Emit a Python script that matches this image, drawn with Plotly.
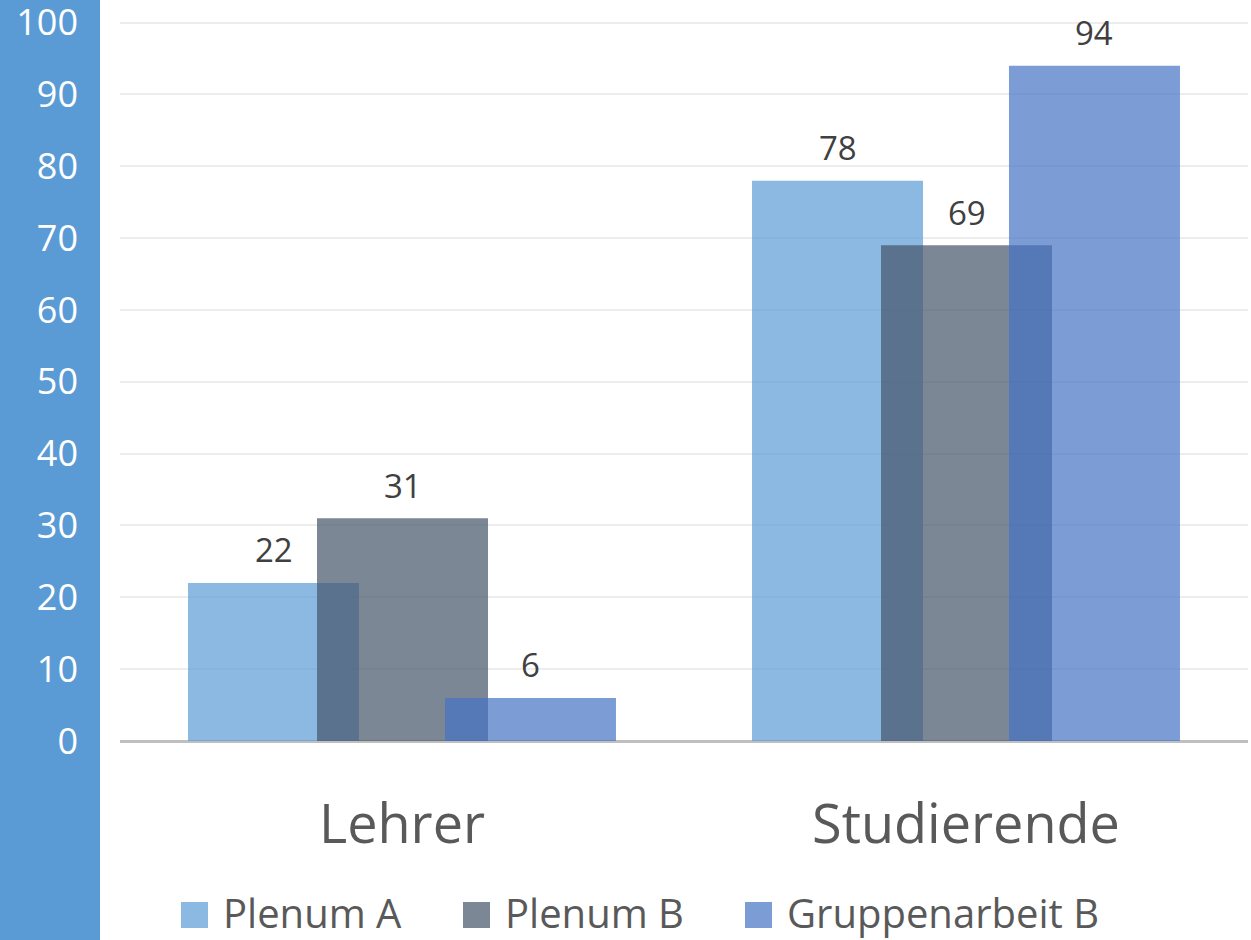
import plotly.graph_objects as go

categories = ["Lehrer", "Studierende"]
series_names = ["Plenum A", "Plenum B", "Gruppenarbeit B"]
plenum_a = [22, 78]
plenum_b = [31, 69]
gruppenarbeit_b = [6, 94]
y_ticks = [0, 10, 20, 30, 40, 50, 60, 70, 80, 90, 100]

series_values = [plenum_a, plenum_b, gruppenarbeit_b]
colors = ["rgba(91,155,213,0.7)", "rgba(68,84,106,0.7)", "rgba(68,114,196,0.7)"]
offsets = [-0.3794, -0.1507, 0.0762]
bar_w = 0.3032

FONT = "Open Sans"
W, H = 1251, 940
ML, MR, MT, MB = 120, 3, 19, 199
PW, PH = W - ML - MR, H - MT - MB


def px_x(p):
    return (p - ML) / PW


def px_y(p):
    return (H - MB - p) / PH


fig = go.Figure()
for name, vals, col, off in zip(series_names, series_values, colors, offsets):
    fig.add_trace(go.Bar(
        x=categories, y=vals, name=name, marker=dict(color=col, line=dict(width=0)),
        offset=off, width=bar_w, showlegend=False, hoverinfo="x+y+name",
    ))
    for i, (c, v) in enumerate(zip(categories, vals)):
        fig.add_annotation(
            x=i + off + bar_w / 2, y=v, xref="x", yref="y", text=str(v),
            showarrow=False, yanchor="middle", yshift=33,
            font=dict(family=FONT, size=33, color="#404040"),
        )

# legend (large square swatches like the original)
legend_starts = [181, 463, 745]
for name, col, x0 in zip(series_names, colors, legend_starts):
    fig.add_shape(type="rect", xref="paper", yref="paper",
                  x0=px_x(x0), x1=px_x(x0 + 27), y0=px_y(928), y1=px_y(902),
                  fillcolor=col, line=dict(width=0))
    fig.add_annotation(x=px_x(x0 + 41), y=px_y(912), xref="paper", yref="paper",
                       xanchor="left", yanchor="middle", showarrow=False,
                       text=name, font=dict(family=FONT, size=40, color="#595959"),
                       borderpad=0)

# blue band on the left
fig.add_shape(type="rect", xref="paper", yref="paper",
              x0=px_x(0) - 0.01, x1=px_x(100),
              y0=px_y(H + 5), y1=px_y(-5),
              fillcolor="#5B9BD5", line=dict(width=0), layer="below")

fig.update_layout(
    width=W, height=H,
    margin=dict(l=ML, r=MR, t=MT, b=MB, autoexpand=False),
    barmode="overlay",
    plot_bgcolor="white", paper_bgcolor="white",
    font=dict(family=FONT),
    showlegend=False,
    xaxis=dict(
        type="category", range=[-0.5, 1.5], showgrid=False, automargin=False,
        tickfont=dict(family=FONT, size=54, color="#595959"),
        ticks="", ticklabelstandoff=47, showline=False, zeroline=False,
    ),
    yaxis=dict(
        range=[0, 100.5], tickvals=y_ticks, ticktext=[str(t) for t in y_ticks],
        showgrid=True, gridcolor="#EDEDED", gridwidth=2, automargin=False,
        zeroline=True, zerolinecolor="#BFBFBF", zerolinewidth=3,
        tickfont=dict(family=FONT, size=36, color="white"),
        ticks="", ticklabelstandoff=41, showline=False,
        ticklabeloverflow="allow",
    ),
)

fig.write_html("out.html")
